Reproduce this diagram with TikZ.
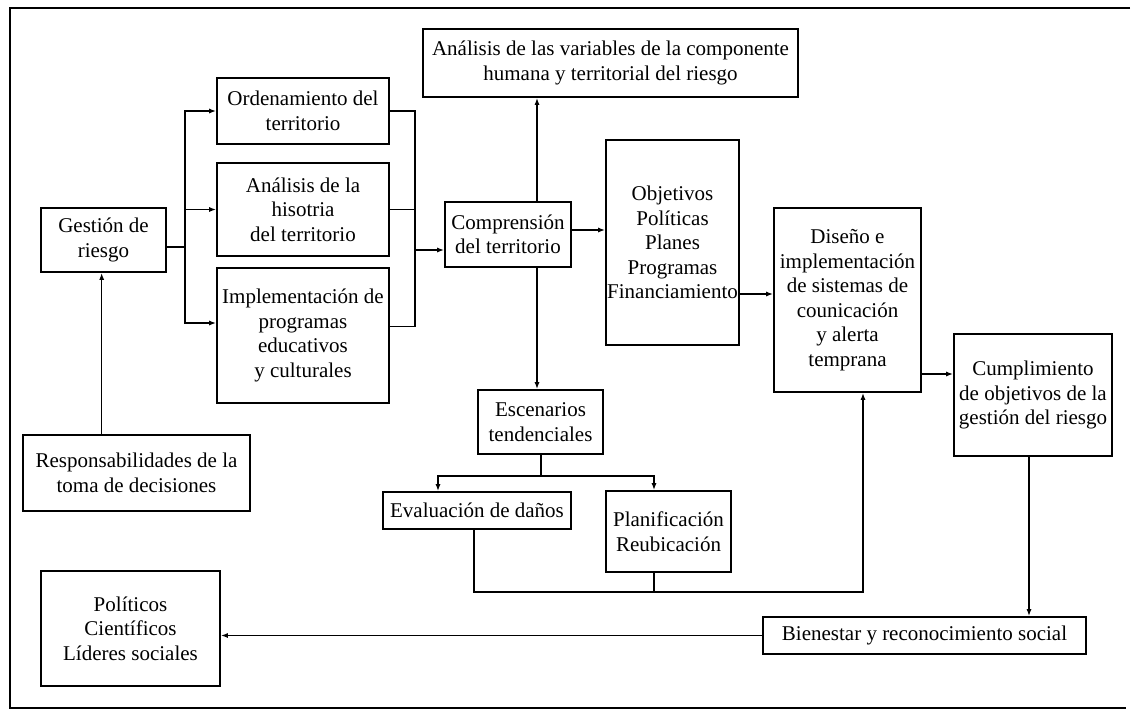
\documentclass[tikz,border=0pt]{standalone}
\usepackage{fontspec}
\setmainfont{Liberation Serif}
\usetikzlibrary{calc}
\usetikzlibrary{arrows.meta}
\usetikzlibrary{positioning}

\begin{document}
\begin{tikzpicture}[
    x=1pt, y=-1pt,
    font=\fontsize{21}{24.5}\selectfont,
    caja/.style={draw, line width=1.6pt, align=center, inner sep=1pt},
    flecha/.style={line width=1.5pt, -{Latex[length=7pt,width=5pt]}},
    linea/.style={line width=1.5pt},
 ]
    \useasboundingbox (0,0) rectangle (1143,718);
    \draw[line width=2.2pt] (1130,8) -- (10,8) -- (10,708) -- (1126,708);

    \node[caja, minimum width=125, minimum height=64] (G) at (103.5,240) {Gestión de\\riesgo};
    \node[caja, minimum width=172, minimum height=66] (O) at (303,111) {Ordenamiento del\\territorio};
    \node[caja, minimum width=172, minimum height=93] (H) at (303,209.5) {Análisis de la\\hisotria\\del territorio};
    \node[caja, minimum width=172, minimum height=135] (I) at (303,335.5) {Implementación de\\programas\\educativos\\y culturales};
    \node[caja, minimum width=227, minimum height=76] (R) at (136.5,473) {Responsabilidades de la\\toma de decisiones};
    \node[caja, minimum width=179, minimum height=115] (P) at (130.5,628.5) {Políticos\\Científicos\\Líderes sociales};
    \node[caja, minimum width=375, minimum height=68] (V) at (610.5,63) {Análisis de las variables de la componente\\humana y territorial del riesgo};
    \node[caja, minimum width=126, minimum height=65] (C) at (508,234.5) {Comprensión\\del territorio};
    \node[caja, minimum width=133, minimum height=205] (J) at (672.5,242.5) {Objetivos\\Políticas\\Planes\\Programas\\Financiamiento};
    \node[caja, minimum width=147, minimum height=184] (D) at (847.5,300) {Diseño e\\implementación\\de sistemas de\\counicación\\y alerta\\temprana};
    \node[caja, minimum width=158, minimum height=122] (M) at (1033,395) {Cumplimiento\\de objetivos de la\\gestión del riesgo};
    \node[caja, minimum width=125, minimum height=64] (E) at (540.5,422) {Escenarios\\tendenciales};
    \node[caja, minimum width=188, minimum height=37] (E1) at (477,510.5) {Evaluación de daños};
    \node[caja, minimum width=125, minimum height=81] (E2) at (668.5,531.5) {Planificación\\Reubicación};
    \node[caja, minimum width=323, minimum height=37] (B) at (924.5,635.5) {Bienestar y reconocimiento social};

    % ramas de la gestion
    \coordinate (split) at (185,247);
    \coordinate (Iin) at ($(I.west)+(0,-12.5)$);
    \coordinate (Iout) at ($(I.east)+(0,-9)$);
    \coordinate (merge) at (415,250);
    \draw[linea] (G.east |- split) -- (split);
    \draw[flecha] (split) |- (O.west);
    \draw[flecha] (split) |- (H.west);
    \draw[flecha] (split) |- (Iin);
    \draw[linea] (O.east) -| (merge);
    \draw[linea] (H.east) -- (H.east -| merge);
    \draw[linea] (Iout) -| (merge);
    \draw[flecha] (merge) -- (merge -| C.west);
    \coordinate (rx) at (101.7,0);
    \draw[flecha] (R.north -| rx) -- (G.south -| rx);

    % comprension
    \coordinate (cx) at (537,0);
    \coordinate (c1) at ($(C.east)+(0,-4.5)$);
    \coordinate (c2) at ($(J.east)+(0,51.5)$);
    \coordinate (c3) at ($(D.east)+(0,74)$);
    \coordinate (bx) at (1029,0);
    \draw[flecha] (C.north -| cx) -- (V.south -| cx);
    \draw[flecha] (C.south -| cx) -- (E.north -| cx);
    \draw[flecha] (c1) -- (c1 -| J.west);
    \draw[flecha] (c2) -- (c2 -| D.west);
    \draw[flecha] (c3) -- (c3 -| M.west);
    \draw[flecha] (M.south -| bx) -- (B.north -| bx);
    \draw[flecha] (B.west) -- (B.west -| P.east);

    % escenarios
    \coordinate (esc) at (541,476);
    \coordinate (e1x) at ($(E1.north)+(-39,0)$);
    \coordinate (e2x) at ($(E2.north)+(-14.5,0)$);
    \coordinate (e1s) at ($(E1.south)+(-3,0)$);
    \coordinate (dx) at ($(D.south)+(15.5,0)$);
    \coordinate (low) at (654,592);
    \draw[linea] (E.south -| esc) -- (esc);
    \draw[flecha] (esc) -| (e1x);
    \draw[flecha] (esc) -| (e2x);
    \draw[flecha] (e1s) |- (low) -| (dx);
    \draw[linea] (E2.south -| low) -- (low);
\end{tikzpicture}
\end{document}
